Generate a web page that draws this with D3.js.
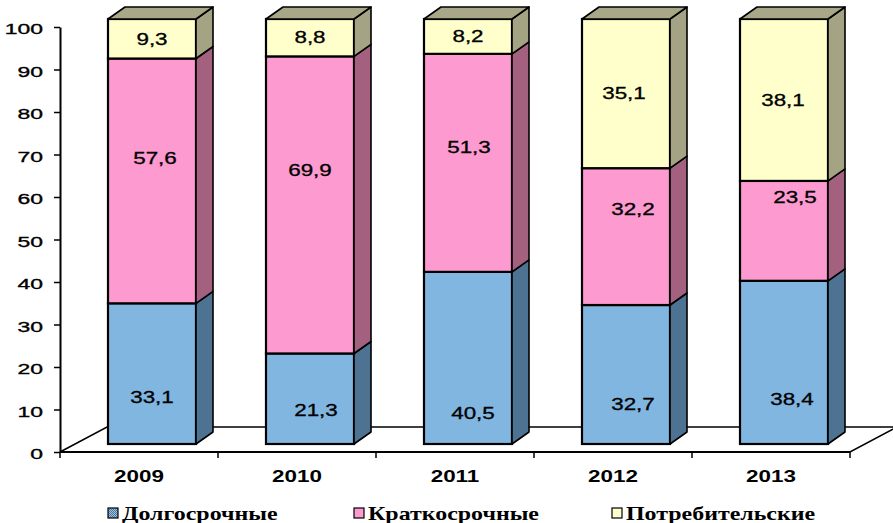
<!DOCTYPE html>
<html><head><meta charset="utf-8">
<script src="https://cdn.jsdelivr.net/npm/d3@7"></script>
<style>html,body{margin:0;padding:0;background:#fff;}svg{display:block;}</style>
</head><body>
<svg id="chart" width="893" height="523"></svg>
<script>
// ---- data ----
const years = ['2009', '2010', '2011', '2012', '2013'];
const longTerm = [33.1, 21.3, 40.5, 32.7, 38.4];
const shortTerm = [57.6, 69.9, 51.3, 32.2, 23.5];
const consumer = [9.3, 8.8, 8.2, 35.1, 38.1];
const seriesNames = ['Долгосрочные', 'Краткосрочные', 'Потребительские'];
const yTicks = [0, 10, 20, 30, 40, 50, 60, 70, 80, 90, 100];

// ---- layout / style (not data) ----
const frontColors = ['#80b6e0', '#fd9acf', '#ffffcc'];
const sideColors = ['#4e7291', '#a3617f', '#a4a484'];
const topColor = '#a8a888';
// label nudges [dx, dy] in px relative to segment centre, per series then per year
const labelNudge = [
  [[0, 24], [6, 12], [5, 55], [7, 30], [8, 37]],
  [[3, -23], [0, -35], [1, -16], [7, -27], [11, -34]],
  [[0, 0], [0, 0], [0, 0], [-2, 0], [-1, 0]]
];

const svg = d3.select('#chart');
const y = d3.scaleLinear().domain([0, 100]).range([452, 27]);
const x = d3.scaleBand().domain(years).range([60, 850]).padding(0);

const floorDepth = [47, -25];
const barOff = [13, -8];
const barW = 88;
const depth = [17, -12];

// floor
const x0 = x.range()[0], x1 = x.range()[1], y0 = y(0);
svg.append('path')
  .attr('d', `M${x0},${y0}L${x1},${y0}L${x1 + floorDepth[0]},${y0 + floorDepth[1]}L${x0 + floorDepth[0]},${y0 + floorDepth[1]}Z`)
  .attr('fill', '#fff').attr('stroke', '#000').attr('stroke-width', 1.5);

// y axis
const yAxis = svg.append('g').attr('transform', `translate(${x0},0)`)
  .call(d3.axisLeft(y).tickValues(yTicks).tickSize(6).tickSizeOuter(0).tickFormat(d3.format('d')));
yAxis.select('.domain').attr('stroke', '#000').attr('stroke-width', 2);
yAxis.selectAll('.tick line').attr('stroke', '#000').attr('stroke-width', 1.5);
yAxis.selectAll('.tick text').each(function () {
  const t = d3.select(this);
  t.attr('x', null).attr('dy', null).attr('y', null)
    .attr('text-anchor', 'end')
    .attr('font-family', 'Liberation Sans, Arial, sans-serif')
    .attr('font-size', 15.5).attr('fill', '#000')
    .attr('stroke', '#000').attr('stroke-width', 0.35)
    .attr('dominant-baseline', 'central')
    .attr('transform', 'translate(-17,1) scale(1.48,1)');
});

// x axis line + ticks at band edges
svg.append('line').attr('x1', x0).attr('x2', x1).attr('y1', y0).attr('y2', y0)
  .attr('stroke', '#000').attr('stroke-width', 2);
const edges = years.map(d => x(d)).concat([x1]);
svg.selectAll('.xt').data(edges).enter().append('line')
  .attr('x1', d => d).attr('x2', d => d).attr('y1', y0).attr('y2', y0 + 6)
  .attr('stroke', '#000').attr('stroke-width', 1.5);
svg.selectAll('.xl').data(years).enter().append('text')
  .attr('transform', d => `translate(${x(d) + x.bandwidth() / 2},482) scale(1.36,1)`)
  .attr('text-anchor', 'middle')
  .attr('font-family', 'Liberation Sans, Arial, sans-serif')
  .attr('font-weight', 'bold').attr('font-size', 16.5).text(d => d);

// bars
const series = [longTerm, shortTerm, consumer];
const by = v => y(v) + barOff[1];
const fmt = v => v.toFixed(1).replace('.', ',');
years.forEach((yr, i) => {
  const g = svg.append('g');
  const bx = x(yr) + x.bandwidth() / 2 + barOff[0] - barW / 2;
  let cum = 0;
  const segs = series.map((s, k) => { const a = cum; cum += s[i]; return {k, a, b: cum, v: s[i]}; });
  segs.forEach(sg => {
    const ya = by(sg.a), yb = by(sg.b);
    g.append('rect').attr('x', bx).attr('y', yb).attr('width', barW).attr('height', ya - yb)
      .attr('fill', frontColors[sg.k]).attr('stroke', '#000').attr('stroke-width', 2.2);
    const rx = bx + barW;
    g.append('path')
      .attr('d', `M${rx},${ya}L${rx},${yb}L${rx + depth[0]},${yb + depth[1]}L${rx + depth[0]},${ya + depth[1]}Z`)
      .attr('fill', sideColors[sg.k]).attr('stroke', '#000').attr('stroke-width', 1.6).attr('stroke-linejoin', 'round');
  });
  const top = segs[segs.length - 1];
  const yt = by(top.b);
  g.append('path')
    .attr('d', `M${bx},${yt}L${bx + barW},${yt}L${bx + barW + depth[0]},${yt + depth[1]}L${bx + depth[0]},${yt + depth[1]}Z`)
    .attr('fill', topColor).attr('stroke', '#000').attr('stroke-width', 1.6).attr('stroke-linejoin', 'round');
  segs.forEach(sg => {
    const cx = bx + barW / 2 + labelNudge[sg.k][i][0];
    const cy = (by(sg.a) + by(sg.b)) / 2 + labelNudge[sg.k][i][1];
    g.append('text')
      .attr('transform', `translate(${cx},${cy}) scale(1.4,1)`)
      .attr('text-anchor', 'middle').attr('dominant-baseline', 'central')
      .attr('font-family', 'Liberation Sans, Arial, sans-serif')
      .attr('stroke', '#000').attr('stroke-width', 0.3)
      .attr('font-size', 16).attr('fill', '#000').text(fmt(sg.v));
  });
});

// legend
const defs = svg.append('defs');
const pat = defs.append('pattern').attr('id', 'chk').attr('width', 2).attr('height', 2)
  .attr('patternUnits', 'userSpaceOnUse');
pat.append('rect').attr('width', 2).attr('height', 2).attr('fill', '#9ac4e8');
pat.append('rect').attr('width', 1).attr('height', 1).attr('fill', '#4e7291');
pat.append('rect').attr('x', 1).attr('y', 1).attr('width', 1).attr('height', 1).attr('fill', '#4e7291');
const legX = [108, 354, 612];
const legFill = ['url(#chk)', frontColors[1], frontColors[2]];
seriesNames.forEach((n, k) => {
  svg.append('rect').attr('x', legX[k]).attr('y', 508).attr('width', 10).attr('height', 10)
    .attr('fill', legFill[k]).attr('stroke', '#000').attr('stroke-width', 1.2);
  svg.append('text')
    .attr('transform', `translate(${legX[k] + 14},520) scale(1.33,1)`)
    .attr('font-family', 'Liberation Serif, Times New Roman, serif')
    .attr('font-weight', 'bold').attr('font-size', 18).attr('fill', '#000').text(n);
});
</script>
</body></html>
